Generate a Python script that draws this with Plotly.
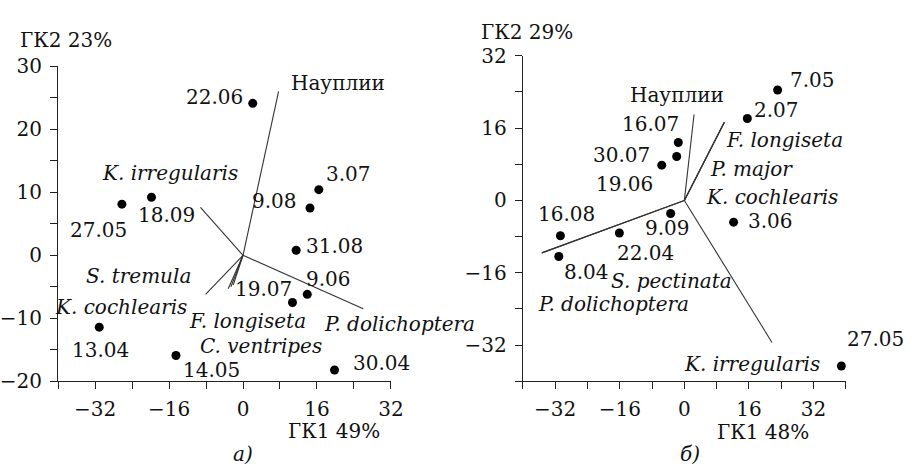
import plotly.graph_objects as go

# ---- panel a): PCA scores (sampling dates) and species loadings ----
a_dates = ["22.06", "3.07", "9.08", "18.09", "27.05", "31.08",
           "9.06", "19.07", "13.04", "14.05", "30.04"]
a_pc1 = [2.1, 16.4, 14.5, -19.8, -26.2, 11.5, 13.9, 10.7, -31.1, -14.5, 19.8]
a_pc2 = [24.1, 10.4, 7.5, 9.2, 8.1, 0.8, -6.2, -7.5, -11.4, -15.9, -18.2]

a_species = ["Науплии", "K. irregularis", "P. dolichoptera", "S. tremula",
             "F. longiseta", "C. ventripes", "K. cochlearis"]
a_load1 = [7.7, -9.2, 26.0, -8.1, -3.2, -2.6, -2.1]
a_load2 = [26.0, 7.6, -8.5, -6.2, -5.3, -5.0, -4.7]

# ---- panel б) ----
b_dates = ["7.05", "2.07", "16.07", "30.07", "19.06", "9.09",
           "3.06", "16.08", "22.04", "8.04", "27.05"]
b_pc1 = [23.1, 15.6, -1.5, -1.9, -5.6, -3.4, 12.2, -30.7, -16.1, -31.1, 38.9]
b_pc2 = [24.4, 18.1, 12.8, 9.7, 7.8, -2.9, -4.8, -7.8, -7.2, -12.4, -36.6]

b_species = ["Науплии", "F. longiseta", "P. major", "K. cochlearis",
             "S. pectinata", "P. dolichoptera", "K. irregularis"]
b_load1 = [2.4, 9.9, 9.9, 9.9, -35.3, -35.3, 21.7]
b_load2 = [19.0, 17.3, 17.3, 17.3, -11.6, -11.6, -31.4]

# axis titles and panel captions
a_xtitle, a_ytitle = "ГК1 49%", "ГК2 23%"
b_xtitle, b_ytitle = "ГК1 48%", "ГК2 29%"
captions = ["а)", "б)"]

# ---- label placement (pixel shifts from the score point, anchor side) ----
a_date_style = [("right", -8, 6), ("left", 5, 16), ("right", -11, 7),
                ("left", -15, -18), ("center", -23, -26), ("left", 8, 4),
                ("left", -3, 15), ("right", 2, 14), ("center", 1, -23),
                ("left", 5, -14), ("left", 16, 7)]
b_date_style = [("left", 10, 10), ("left", 5, 9), ("right", 3, 19),
                ("right", -25, 2), ("right", -7, -19), ("center", -3, -14),
                ("left", 12, 1), ("center", 6, 22), ("left", -4, -20),
                ("left", 3, -15), ("left", 4, 27)]

# species label positions (data units) and anchors
a_sp_pos = [(10.0, 27.3, "left"), (-15.9, 13.0, "center"), (17.1, -10.9, "left"),
            (-22.6, -3.3, "center"), (1.0, -10.4, "center"), (3.8, -14.4, "center"),
            (-26.3, -8.2, "center")]
b_sp_pos = [(-1.9, 23.2, "center"), (9.7, 13.3, "left"), (5.8, 6.9, "left"),
            (4.9, 0.8, "left"), (-3.2, -17.9, "center"), (-17.5, -22.9, "center"),
            (34.1, -36.2, "right")]

FONT = "DejaVu Serif"
FS = 20
INK = "#111111"
LINE = "#333333"

fig = go.Figure()


def add_panel(xr, yr, pc1, pc2, dates, dstyle, species, l1, l2, sp_pos):
    for lx, ly in zip(l1, l2):
        fig.add_trace(go.Scatter(x=[0, lx], y=[0, ly], mode="lines",
                                 line=dict(color=LINE, width=1.1),
                                 xaxis=xr, yaxis=yr, hoverinfo="skip",
                                 showlegend=False))
    fig.add_trace(go.Scatter(x=pc1, y=pc2, mode="markers",
                             marker=dict(color="black", size=9),
                             xaxis=xr, yaxis=yr, showlegend=False))
    for d, px, py, (anc, dx, dy) in zip(dates, pc1, pc2, dstyle):
        fig.add_annotation(x=px, y=py, xref=xr, yref=yr, text=d,
                           showarrow=False, xanchor=anc, yanchor="middle",
                           xshift=dx, yshift=dy,
                           font=dict(family=FONT, size=FS, color=INK))
    for s, (sx, sy, anc) in zip(species, sp_pos):
        txt = s if s == "Науплии" else "<i>" + s + "</i>"
        fig.add_annotation(x=sx, y=sy, xref=xr, yref=yr, text=txt,
                           showarrow=False, xanchor=anc, yanchor="middle",
                           font=dict(family=FONT, size=FS, color=INK))


add_panel("x", "y", a_pc1, a_pc2, a_dates, a_date_style,
          a_species, a_load1, a_load2, a_sp_pos)
add_panel("x2", "y2", b_pc1, b_pc2, b_dates, b_date_style,
          b_species, b_load1, b_load2, b_sp_pos)

W, H = 913, 475

axis_common = dict(showline=True, linecolor="#222222", linewidth=1.2,
                   showgrid=False, zeroline=False, ticks="outside",
                   ticklen=7, tickwidth=1.2, tickcolor="#222222",
                   tickfont=dict(family=FONT, size=FS, color=INK),
                   fixedrange=True)
minor_common = dict(ticks="outside", ticklen=7, tickwidth=1.2,
                    tickcolor="#222222")

fig.update_layout(
    width=W, height=H,
    margin=dict(l=0, r=0, t=0, b=0),
    paper_bgcolor="white", plot_bgcolor="white",
    font=dict(family=FONT, size=FS, color=INK),
    xaxis=dict(domain=[58 / W, 396 / W], range=[-40, 32], anchor="y",
               tickvals=[-32, -16, 0, 16, 32], ticklabelstandoff=3,
               minor=dict(tickvals=[-40, -24, -8, 8, 24], **minor_common),
               **axis_common),
    yaxis=dict(domain=[1 - 389 / H, 1 - 57 / H], range=[-20, 30], anchor="x",
               tickvals=[-20, -10, 0, 10, 20, 30], ticklabelstandoff=4,
               minor=dict(tickvals=[-15, -5, 5, 15, 25], **minor_common),
               **axis_common),
    xaxis2=dict(domain=[530 / W, 858 / W], range=[-40, 40], anchor="y2",
                tickvals=[-32, -16, 0, 16, 32], ticklabelstandoff=3,
                minor=dict(tickvals=[-40, -24, -8, 8, 24, 40], **minor_common),
                **axis_common),
    yaxis2=dict(domain=[1 - 389 / H, 1 - 46 / H], range=[-40, 32], anchor="x2",
                tickvals=[-32, -16, 0, 16, 32], ticklabelstandoff=4,
                minor=dict(tickvals=[-40, -24, -8, 8, 24], **minor_common),
                **axis_common),
)

# axis titles and captions in page coordinates
paper_text = [
    (a_ytitle, 17, 30, "left", False),
    (a_xtitle, 338, 441, "center", False),
    (b_ytitle, 534, 21, "center", False),
    (b_xtitle, 774, 442, "center", False),
    (captions[0], 246, 465, "center", True),
    (captions[1], 700, 465, "center", True),
]
for t, px, py, anc, it in paper_text:
    fig.add_annotation(x=px / W, y=1 - py / H, xref="paper", yref="paper",
                       text=("<i>" + t + "</i>") if it else t,
                       showarrow=False, xanchor=anc, yanchor="middle",
                       font=dict(family=FONT, size=FS, color=INK))

fig.write_html("out.html", config=dict(displayModeBar=False))
